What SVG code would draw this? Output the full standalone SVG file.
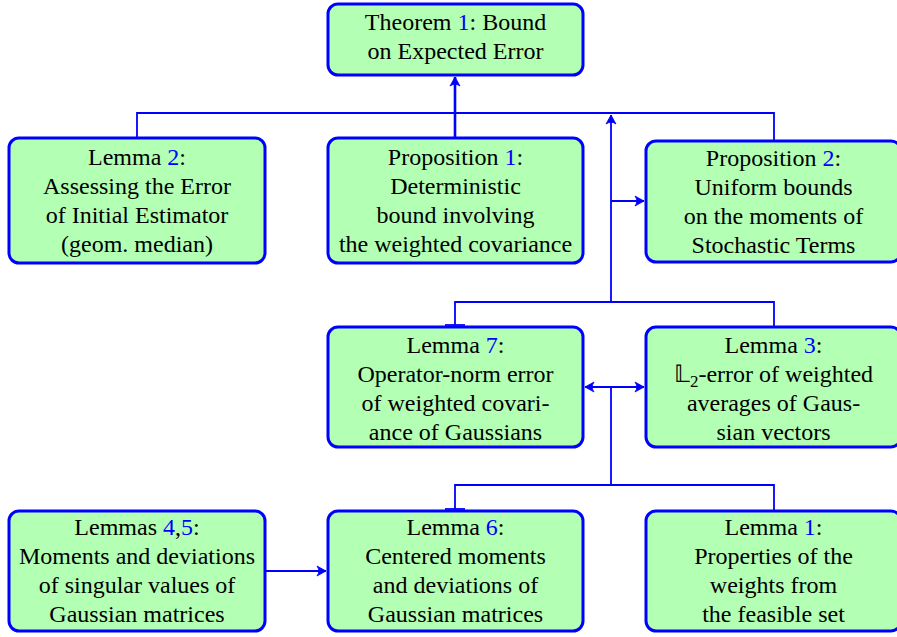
<svg xmlns="http://www.w3.org/2000/svg" width="897" height="637" viewBox="0 0 897 637" font-family="'Liberation Serif', 'Times New Roman', serif">
<style>
.box{fill:#b3ffb3;stroke:#0000ff;stroke-width:3}
.t{font-family:'Liberation Serif','Times New Roman',serif;font-size:24px;fill:#000;text-anchor:middle}
.n{fill:#0000ff}
.c{fill:none;stroke:#0000ff;stroke-width:1.8}
.thick{stroke-width:2.6}
</style>
<defs>
<marker id="ah" viewBox="-10 -6 12 12" refX="0" refY="0" markerWidth="12" markerHeight="12" markerUnits="userSpaceOnUse" orient="auto-start-reverse">
<path d="M0,0 L-9,-5 Q-5.5,0 -9,5 Z" fill="#0000ff" stroke="#0000ff" stroke-width="0.8" stroke-linejoin="round"/>
</marker>
</defs>
<rect width="897" height="637" fill="#fff"/>
<g id="connectors">
<path class="c" d="M137,138 V113 H774 V141"/>
<path class="c thick" d="M455,138 V77" marker-end="url(#ah)"/>
<path class="c" d="M611,302 V115" marker-end="url(#ah)"/>
<path class="c" d="M611,201 H644" marker-end="url(#ah)"/>
<path class="c" d="M455,325 V302 H774 V327"/>
<path class="c" d="M445,325 H465" stroke-width="2.4"/>
<path class="c" d="M585,387 H644" marker-start="url(#ah)" marker-end="url(#ah)"/>
<path class="c" d="M611,387 V485"/>
<path class="c" d="M455,509 V485 H774 V511"/>
<path class="c" d="M445,509 H465" stroke-width="2.4"/>
<path class="c" d="M265,571 H326" marker-end="url(#ah)"/>
</g>
<g id="theorem1">
<rect class="box" x="328" y="4" width="255" height="71" rx="10"/>
<text class="t" x="455.5" y="30">Theorem <tspan class="n">1</tspan>: Bound</text>
<text class="t" x="455.5" y="59">on Expected Error</text>
</g>
<g id="lemma2">
<rect class="box" x="9" y="138" width="256" height="125" rx="10"/>
<text class="t" x="137" y="165">Lemma <tspan class="n">2</tspan>:</text>
<text class="t" x="137" y="194">Assessing the Error</text>
<text class="t" x="137" y="223">of Initial Estimator</text>
<text class="t" x="137" y="252">(geom. median)</text>
</g>
<g id="prop1">
<rect class="box" x="328" y="138" width="255" height="125" rx="10"/>
<text class="t" x="455.5" y="165">Proposition <tspan class="n">1</tspan>:</text>
<text class="t" x="455.5" y="194">Deterministic</text>
<text class="t" x="455.5" y="223">bound involving</text>
<text class="t" x="455.5" y="252">the weighted covariance</text>
</g>
<g id="prop2">
<rect class="box" x="646" y="141" width="255" height="121" rx="10"/>
<text class="t" x="773.5" y="166">Proposition <tspan class="n">2</tspan>:</text>
<text class="t" x="773.5" y="195">Uniform bounds</text>
<text class="t" x="773.5" y="224">on the moments of</text>
<text class="t" x="773.5" y="253">Stochastic Terms</text>
</g>
<g id="lemma7">
<rect class="box" x="328" y="327" width="255" height="120" rx="10"/>
<text class="t" x="455.5" y="353">Lemma <tspan class="n">7</tspan>:</text>
<text class="t" x="455.5" y="382">Operator-norm error</text>
<text class="t" x="455.5" y="411">of weighted covari-</text>
<text class="t" x="455.5" y="440">ance of Gaussians</text>
</g>
<g id="lemma3">
<rect class="box" x="646" y="327" width="255" height="120" rx="10"/>
<text class="t" x="773.5" y="353">Lemma <tspan class="n">3</tspan>:</text>
<text class="t" x="773.5" y="382">𝕃<tspan font-size="17" dy="5">2</tspan><tspan dy="-5">-error of weighted</tspan></text>
<text class="t" x="773.5" y="411">averages of Gaus-</text>
<text class="t" x="773.5" y="440">sian vectors</text>
</g>
<g id="lemmas45">
<rect class="box" x="9" y="511" width="256" height="120" rx="10"/>
<text class="t" x="137" y="535">Lemmas <tspan class="n">4</tspan>,<tspan class="n">5</tspan>:</text>
<text class="t" x="137" y="564">Moments and deviations</text>
<text class="t" x="137" y="593">of singular values of</text>
<text class="t" x="137" y="622">Gaussian matrices</text>
</g>
<g id="lemma6">
<rect class="box" x="328" y="511" width="255" height="120" rx="10"/>
<text class="t" x="455.5" y="535">Lemma <tspan class="n">6</tspan>:</text>
<text class="t" x="455.5" y="564">Centered moments</text>
<text class="t" x="455.5" y="593">and deviations of</text>
<text class="t" x="455.5" y="622">Gaussian matrices</text>
</g>
<g id="lemma1">
<rect class="box" x="646" y="511" width="255" height="120" rx="10"/>
<text class="t" x="773.5" y="535">Lemma <tspan class="n">1</tspan>:</text>
<text class="t" x="773.5" y="564">Properties of the</text>
<text class="t" x="773.5" y="593">weights from</text>
<text class="t" x="773.5" y="622">the feasible set</text>
</g>
</svg>
